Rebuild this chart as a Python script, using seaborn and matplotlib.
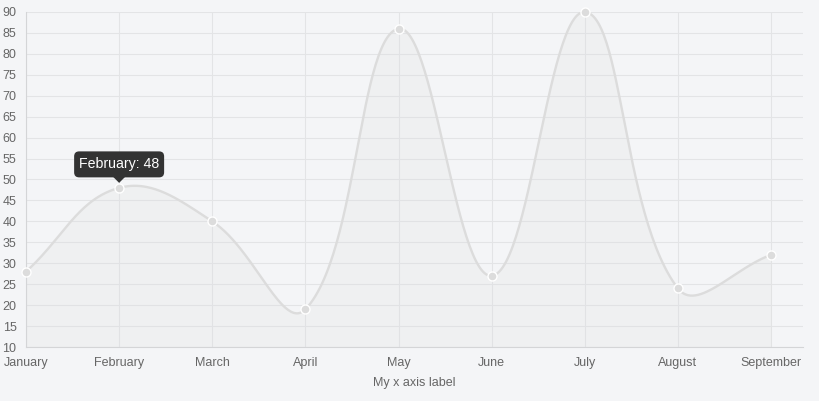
import numpy as np
import pandas as pd
import matplotlib
matplotlib.use('Agg')
import matplotlib.pyplot as plt
import seaborn as sns
from matplotlib.patches import FancyBboxPatch, Polygon
from matplotlib.transforms import IdentityTransform

months = ['January', 'February', 'March', 'April', 'May', 'June', 'July', 'August', 'September']
values = [28, 48, 40, 19, 86, 27, 90, 24, 32]
tooltip_index = 1

BG = '#f4f5f7'
GRID = '#e3e4e6'
AXIS = '#d4d5d7'
LINE = '#dcdcdc'
FILL = (220 / 255, 220 / 255, 220 / 255, 0.2)
TEXT = '#666666'

sns.set_theme(style='white')
plt.rcParams['font.family'] = ['Liberation Sans', 'DejaVu Sans']

W, H = 820, 401
fig = plt.figure(figsize=(W / 100, H / 100), dpi=100, facecolor=BG)
ax = fig.add_axes([26 / W, 54 / H, (803 - 26) / W, (347 - 12) / H], facecolor=BG)

x = np.arange(len(months))
y = np.array(values, dtype=float)

# pixel scale used for Chart.js style spline weights
px_x = (771 - 26) / 8
px_y = (347 - 12) / 80


def spline_controls(x, y, t=0.4):
    n = len(x)
    prev_ctl, next_ctl = [], []
    for i in range(n):
        p0 = (x[max(i - 1, 0)], y[max(i - 1, 0)])
        p1 = (x[i], y[i])
        p2 = (x[min(i + 1, n - 1)], y[min(i + 1, n - 1)])
        d01 = np.hypot((p1[0] - p0[0]) * px_x, (p1[1] - p0[1]) * px_y)
        d12 = np.hypot((p2[0] - p1[0]) * px_x, (p2[1] - p1[1]) * px_y)
        tot = d01 + d12
        s01 = d01 / tot if tot else 0
        s12 = d12 / tot if tot else 0
        fa, fb = t * s01, t * s12
        dx, dy = p2[0] - p0[0], p2[1] - p0[1]
        prev_ctl.append((p1[0] - fa * dx, p1[1] - fa * dy))
        next_ctl.append((p1[0] + fb * dx, p1[1] + fb * dy))
    return prev_ctl, next_ctl


prev_ctl, next_ctl = spline_controls(x, y)
cx, cy = [], []
tt = np.linspace(0, 1, 60)
for i in range(len(x) - 1):
    P0 = np.array([x[i], y[i]])
    P1 = np.array(next_ctl[i])
    P2 = np.array(prev_ctl[i + 1])
    P3 = np.array([x[i + 1], y[i + 1]])
    seg = ((1 - tt) ** 3)[:, None] * P0 + (3 * (1 - tt) ** 2 * tt)[:, None] * P1 \
        + (3 * (1 - tt) * tt ** 2)[:, None] * P2 + (tt ** 3)[:, None] * P3
    cx.extend(seg[:, 0])
    cy.extend(seg[:, 1])
curve = pd.DataFrame({'x': cx, 'y': cy})

ax.fill_between(curve['x'], curve['y'], 10, color=FILL, linewidth=0, zorder=2)
sns.lineplot(data=curve, x='x', y='y', ax=ax, color=LINE, linewidth=1.7, sort=False, zorder=3)
pts = pd.DataFrame({'x': x, 'y': y})
sns.scatterplot(data=pts, x='x', y='y', ax=ax, color=LINE, s=42, edgecolor='white',
                linewidth=1, zorder=4, clip_on=False)

ax.set_xlim(0, 8 + 32 / px_x)
ax.set_ylim(10, 90)
ax.set_xticks(x)
ax.set_xticklabels(months, va='baseline')
ax.set_yticks(np.arange(10, 91, 5))
ax.grid(True, color=GRID, linewidth=0.8)
ax.set_axisbelow(True)
for side in ['top', 'right']:
    ax.spines[side].set_visible(False)
for side in ['left', 'bottom']:
    ax.spines[side].set_color(AXIS)
    ax.spines[side].set_linewidth(0.8)
ax.tick_params(axis='both', length=4.3, width=0.8, color=GRID, labelcolor=TEXT, labelsize=9)
ax.tick_params(axis='y', pad=2.5)
ax.tick_params(axis='x', pad=9.4)
ax.set_xlabel('My x axis label', color=TEXT, fontsize=9, labelpad=6)
ax.set_ylabel('')

# tooltip
fig.canvas.draw()
px, py = ax.transData.transform((x[tooltip_index], y[tooltip_index]))
bw, bh = 90, 26
bx, by = px - bw / 2, py + 10.5
box = FancyBboxPatch((bx, by), bw, bh, boxstyle='round,pad=0,rounding_size=5',
                     facecolor='#333333', edgecolor='none', transform=IdentityTransform(),
                     zorder=10)
fig.patches.append(box)
caret = Polygon([(px - 6, by + 0.5), (px + 6, by + 0.5), (px, by - 5.5)], closed=True,
                facecolor='#333333', edgecolor='none', transform=IdentityTransform(), zorder=10)
fig.patches.append(caret)
fig.text(px, by + bh / 2, f'{months[tooltip_index]}: {values[tooltip_index]}',
         transform=IdentityTransform(), ha='center', va='center', color='white',
         fontsize=10.2, zorder=11)

fig.savefig('out.png', dpi=100, facecolor=BG)
